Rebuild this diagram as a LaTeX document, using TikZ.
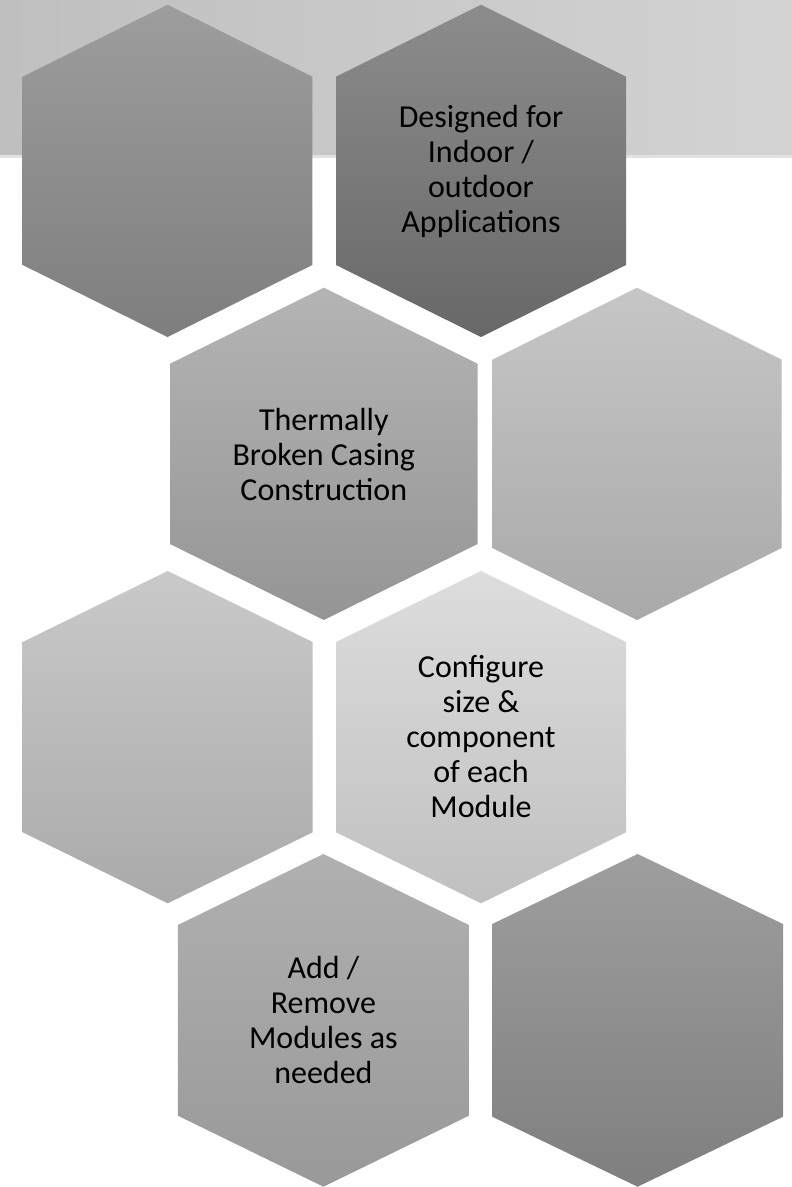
\documentclass[tikz,border=0pt]{standalone}
\usepackage{fontspec}
\setmainfont{Carlito}
\definecolor{bandL}{HTML}{BFBFBF}
\definecolor{bandR}{HTML}{D3D3D3}
\definecolor{bandLine}{HTML}{E2E2E2}
\definecolor{hAt}{HTML}{9D9D9D}\definecolor{hAb}{HTML}{7E7E7E}
\definecolor{hBt}{HTML}{8C8C8C}\definecolor{hBb}{HTML}{686868}
\definecolor{hCt}{HTML}{B4B4B4}\definecolor{hCb}{HTML}{959595}
\definecolor{hDt}{HTML}{C6C6C6}\definecolor{hDb}{HTML}{A9A9A9}
\definecolor{hEt}{HTML}{C9C9C9}\definecolor{hEb}{HTML}{AAAAAA}
\definecolor{hFt}{HTML}{DDDDDD}\definecolor{hFb}{HTML}{C0C0C0}
\definecolor{hGt}{HTML}{B0B0B0}\definecolor{hGb}{HTML}{999999}
\definecolor{hHt}{HTML}{9E9E9E}\definecolor{hHb}{HTML}{7F7F7F}
% #1 cx, #2 top, #3 half width, #4 slant height, #5 bottom, #6 top colour, #7 bottom colour
\newcommand\myhexa[7]{%
  \shade[top color=#6, bottom color=#7]
    (#1,#2) -- (#1+#3,#2+#4) -- (#1+#3,#5-#4) -- (#1,#5)
    -- (#1-#3,#5-#4) -- (#1-#3,#2+#4) -- cycle;}
\tikzset{hextext/.style={align=center, inner sep=0pt, text=black,
  font=\fontsize{32}{35}\selectfont}}
\begin{document}
\begin{tikzpicture}[x=1pt,y=-1pt]
\useasboundingbox (0,0) rectangle (792,1187);
\fill[white] (0,0) rectangle (792,1187);
% top band
\shade[left color=bandL, right color=bandR] (0,0) rectangle (792,155);
\fill[bandLine] (0,155) rectangle (792,157.5);
% row 1
\myhexa{167.5}{4.7}{144.8}{72}{337}{hAt}{hAb}
\myhexa{481}{4.7}{145}{72}{337}{hBt}{hBb}
% row 2
\myhexa{323.8}{287.7}{153.8}{76}{620}{hCt}{hCb}
\myhexa{637}{287.7}{144.7}{72}{620}{hDt}{hDb}
% row 3
\myhexa{167.7}{571}{145}{71}{903.3}{hEt}{hEb}
\myhexa{481}{571}{145}{71}{903.3}{hFt}{hFb}
% row 4
\myhexa{323.4}{854}{145.5}{71}{1186.7}{hGt}{hGb}
\myhexa{637.6}{854}{145.4}{70}{1186.7}{hHt}{hHb}
% texts
\node[hextext] (t1) at (481,171) {Designed for\\Indoor /\\outdoor\\Applications};
\node[hextext] (t2) at (323.8,454) {Thermally\\Broken Casing\\Construction};
\node[hextext] (t3) at (481,737) {Configure\\size \&\\component\\of each\\Module};
\node[hextext] (t4) at (323.4,1020.4) {Add /\\Remove\\Modules as\\needed};
\end{tikzpicture}
\end{document}
